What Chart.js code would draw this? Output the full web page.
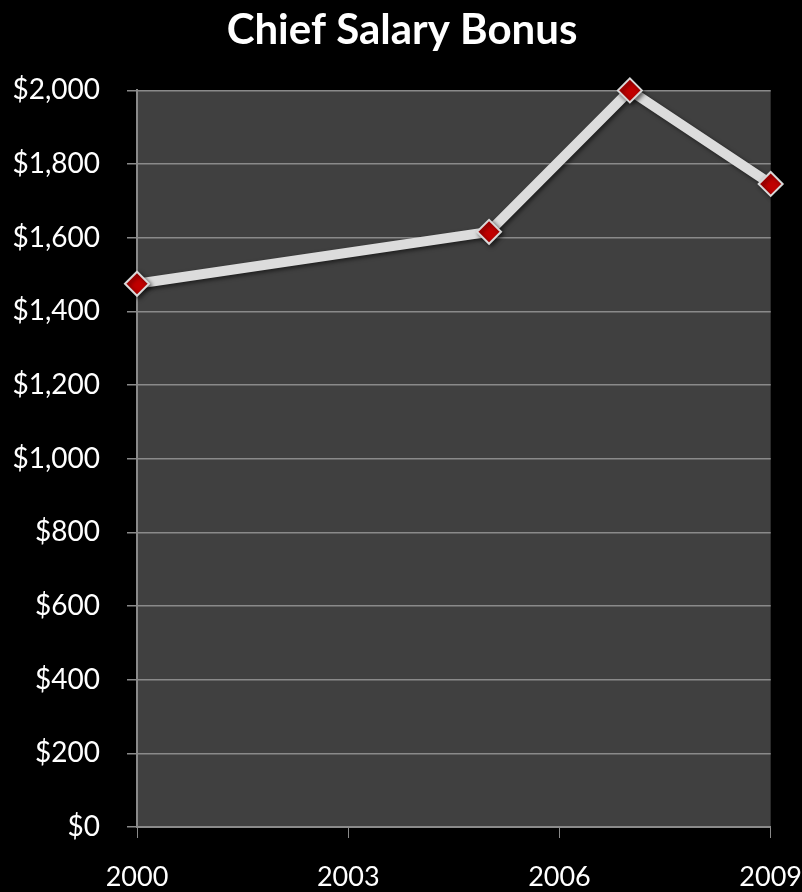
<!DOCTYPE html>
<html>
<head>
<meta charset="utf-8">
<script src="https://cdn.jsdelivr.net/npm/chart.js@4/dist/chart.umd.min.js"></script>
<style>
  html, body { margin: 0; padding: 0; background: #000; }
  #wrap { width: 802px; height: 892px; }
</style>
</head>
<body>
<div id="wrap"><canvas id="chart" width="802" height="892"></canvas></div>
<script>
// Chief Salary Bonus — single line on a linear year axis

const YEARS   = [2000, 2005, 2007, 2009];
const BONUS   = [1475, 1616, 2000, 1746];
const X_TICKS = [2000, 2003, 2006, 2009];

const GRID  = '#8a8a8a';
const PLOT  = '#404040';
const LINE  = '#dcdcdc';
const FONT  = 'Lato, "Open Sans", sans-serif';

const plotBg = {
  id: 'plotBg',
  beforeDraw(chart) {
    const { ctx, chartArea: a } = chart;
    ctx.save();
    ctx.fillStyle = PLOT;
    ctx.fillRect(a.left, a.top, a.right - a.left, a.bottom - a.top);
    ctx.restore();
  },
  beforeDatasetsDraw(chart) {
    const ctx = chart.ctx;
    ctx.save();
    ctx.shadowColor = 'rgba(0,0,0,0.55)';
    ctx.shadowBlur = 4;
    ctx.shadowOffsetX = 2;
    ctx.shadowOffsetY = 2;
  },
  afterDatasetsDraw(chart) {
    chart.ctx.restore();
  },
};

new Chart(document.getElementById('chart'), {
  type: 'line',
  data: {
    datasets: [{
      data: YEARS.map((y, i) => ({ x: y, y: BONUS[i] })),
      borderColor: LINE,
      borderWidth: 10,
      pointStyle: 'rectRot',
      pointRadius: 12,
      pointHoverRadius: 12,
      pointBackgroundColor: '#c00000',
      pointBorderColor: '#d8d8d8',
      pointBorderWidth: 2,
      tension: 0,
      fill: false,
      clip: false,
    }],
  },
  options: {
    responsive: false,
    animation: false,
    layout: { padding: { left: 8, right: 6, top: 4, bottom: 0 } },
    plugins: {
      legend: { display: false },
      tooltip: { enabled: false },
      title: {
        display: true,
        text: 'Chief Salary Bonus',
        color: '#fff',
        font: { family: FONT, size: 42, weight: 'bold' },
        padding: { top: 1, bottom: 35 },
      },
    },
    scales: {
      x: {
        type: 'linear',
        min: 2000,
        max: 2009,
        afterBuildTicks: s => { s.ticks = X_TICKS.map(v => ({ value: v })); },
        afterFit: s => { s.height = 65; },
        ticks: {
          color: '#fff',
          font: { family: FONT, size: 27 },
          padding: 0,
          maxRotation: 0,
          callback: v => String(v),
        },
        // long tick slot pushes labels down; dash keeps the visible mark at 10px
        grid: {
          drawOnChartArea: false, color: GRID, tickColor: GRID,
          tickLength: 34, tickBorderDash: [10, 100],
        },
        border: { color: GRID, width: 2 },
      },
      y: {
        min: 0,
        max: 2000,
        afterFit: s => { s.width = 129; },
        ticks: {
          stepSize: 200,
          color: '#fff',
          font: { family: FONT, size: 28 },
          padding: 27,
          callback: v => '$' + v.toLocaleString('en-US'),
        },
        grid: { color: GRID, lineWidth: 1.5, tickLength: 10, tickColor: GRID },
        border: { color: GRID, width: 2 },
      },
    },
  },
  plugins: [plotBg],
});
</script>
</body>
</html>
